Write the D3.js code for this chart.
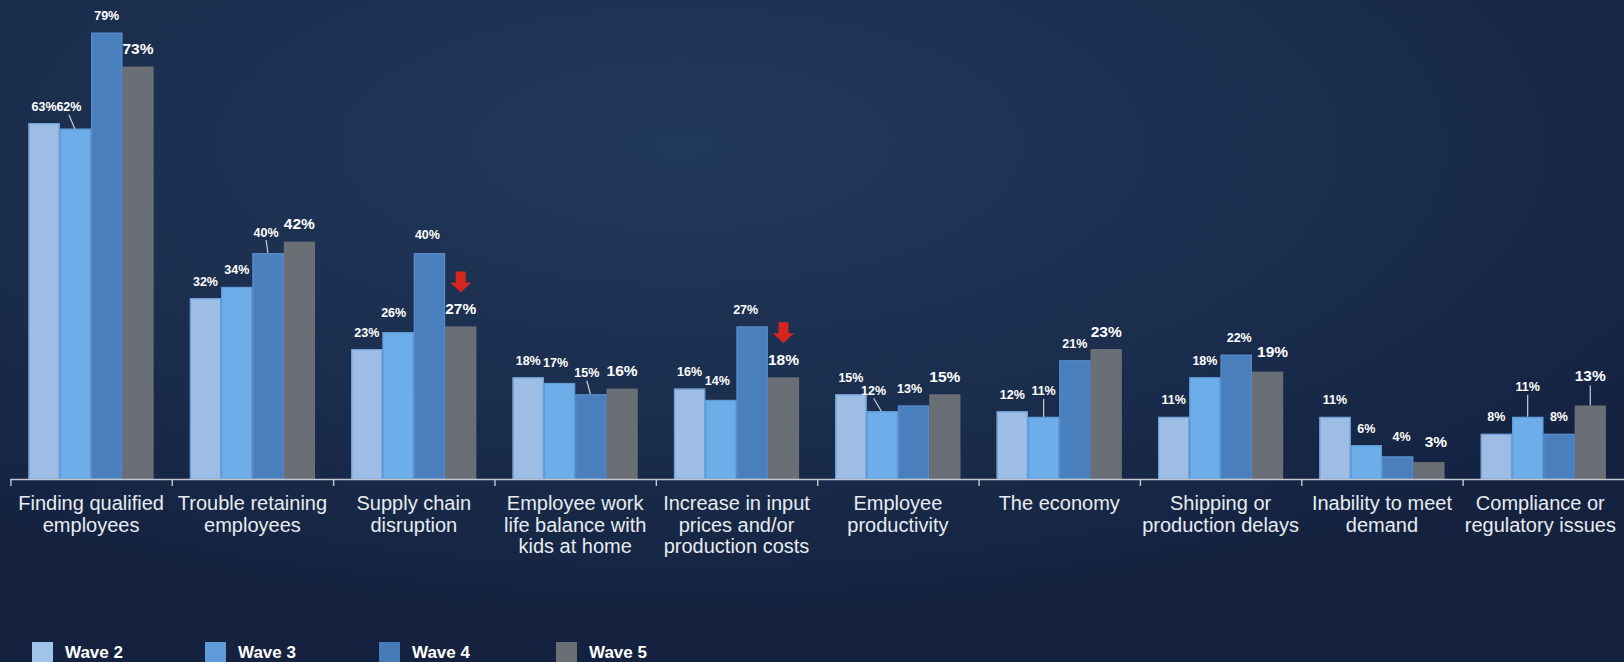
<!DOCTYPE html>
<html>
<head>
<meta charset="utf-8">
<script src="https://cdn.jsdelivr.net/npm/d3@7"></script>
<style>
  html, body { margin: 0; padding: 0; background: #182a48; }
  svg { display: block; }
  text { font-family: "Liberation Sans", Arial, Helvetica, sans-serif; }
</style>
</head>
<body>
<svg id="chart" width="1624" height="662"></svg>
<script>
// Issues facing businesses, share of respondents by survey wave
const categories = [
  "Finding qualified employees",
  "Trouble retaining employees",
  "Supply chain disruption",
  "Employee work life balance with kids at home",
  "Increase in input prices and/or production costs",
  "Employee productivity",
  "The economy",
  "Shipping or production delays",
  "Inability to meet demand",
  "Compliance or regulatory issues"
];
const categoryLines = [
  ["Finding qualified", "employees"],
  ["Trouble retaining", "employees"],
  ["Supply chain", "disruption"],
  ["Employee work", "life balance with", "kids at home"],
  ["Increase in input", "prices and/or", "production costs"],
  ["Employee", "productivity"],
  ["The economy"],
  ["Shipping or", "production delays"],
  ["Inability to meet", "demand"],
  ["Compliance or", "regulatory issues"]
];
const seriesNames = ["Wave 2", "Wave 3", "Wave 4", "Wave 5"];
const wave2 = [63, 32, 23, 18, 16, 15, 12, 11, 11, 8];
const wave3 = [62, 34, 26, 17, 14, 12, 11, 18, 6, 11];
const wave4 = [79, 40, 40, 15, 27, 13, 21, 22, 4, 8];
const wave5 = [73, 42, 27, 16, 18, 15, 23, 19, 3, 13];
// categories where the latest wave dropped noticeably
const declineFlags = [false, false, true, false, true, false, false, false, false, false];

const seriesValues = [wave2, wave3, wave4, wave5];
const colors = ["#9dbde5", "#6dadea", "#4a7fbe", "#6a6e75"];
const strokes = ["#6e9fda", "#5f9ad8", "#5a8bc8", null];
const legendColors = ["#a0c3ea", "#609bd9", "#477bb8", "#6a6e75"];

// label nudges for crowded spots: [category, series, dx, dy, leader line]
const nudges = [
  [0, 1, -6.5, -5, true],
  [1, 2, -2, -4, true],
  [2, 1, -4.5, -3, false],
  [2, 2, -2, -2, false],
  [3, 1, -4, -3, false],
  [3, 2, -4, -4.5, true],
  [4, 1, -3.5, -2, false],
  [4, 2, -6.5, 0, false],
  [5, 1, -8.6, -4, true],
  [5, 2, -4, 0, false],
  [6, 1, 0, -9, true],
  [7, 2, 3, 0, false],
  [7, 3, 5, -2, false],
  [8, 2, 4, -3, false],
  [8, 3, 7, -3, false],
  [9, 1, 0, -13, true],
  [9, 3, 0, -12, true]
];

const W = 1624, H = 662;
const svg = d3.select("#chart");

// background
const defs = svg.append("defs");
const grad = defs.append("radialGradient")
  .attr("id", "bg").attr("cx", 0.42).attr("cy", 0.22).attr("r", 0.72);
grad.append("stop").attr("offset", 0).attr("stop-color", "#21395a");
grad.append("stop").attr("offset", 0.55).attr("stop-color", "#1b2e4e");
grad.append("stop").attr("offset", 1).attr("stop-color", "#142240");
svg.append("rect").attr("width", W).attr("height", H).attr("fill", "url(#bg)");

const baseY = 479;
const x = d3.scaleBand().domain(categories).range([10.4, 1624]).paddingInner(0).paddingOuter(0);
const xi = d3.scaleBand().domain(seriesNames).range([0, x.bandwidth()]).paddingInner(0).paddingOuter(0.578);
const y = d3.scaleLinear().domain([0, 80]).range([baseY, baseY - 80 * 5.65]);

const rows = [];
categories.forEach((c, ci) => {
  seriesNames.forEach((s, si) => {
    rows.push({ c, ci, s, si, v: seriesValues[si][ci] });
  });
});

// bars
const g = svg.append("g");
g.selectAll("rect.bar").data(rows).join("rect")
  .attr("class", "bar")
  .attr("x", d => x(d.c) + xi(d.s))
  .attr("y", d => y(d.v))
  .attr("width", xi.bandwidth())
  .attr("height", d => y(0) - y(d.v))
  .attr("fill", d => colors[d.si]);

g.selectAll("rect.edge").data(rows.filter(d => strokes[d.si])).join("rect")
  .attr("class", "edge")
  .attr("x", d => x(d.c) + xi(d.s) + 0.6)
  .attr("y", d => y(d.v) + 0.6)
  .attr("width", xi.bandwidth() - 1.2)
  .attr("height", d => y(0) - y(d.v) - 0.6)
  .attr("fill", "none")
  .attr("stroke", d => strokes[d.si])
  .attr("stroke-width", 1.2);

// axis line with ticks at category boundaries
const axis = svg.append("g");
axis.append("line")
  .attr("x1", x.range()[0]).attr("x2", x.range()[1])
  .attr("y1", baseY + 0.5).attr("y2", baseY + 0.5)
  .attr("stroke", "#c3c8d0").attr("stroke-width", 1.6);
axis.selectAll("line.tick").data(categories).join("line")
  .attr("class", "tick")
  .attr("x1", d => x(d) + 0.5).attr("x2", d => x(d) + 0.5)
  .attr("y1", baseY).attr("y2", baseY + 7)
  .attr("stroke", "#c3c8d0").attr("stroke-width", 1.4);

// category labels
const cat = svg.append("g");
categories.forEach((c, ci) => {
  const cx = x(c) + x.bandwidth() / 2 - (ci === 9 ? 3 : 0);
  const t = cat.append("text")
    .attr("x", cx)
    .attr("y", 510)
    .attr("text-anchor", "middle")
    .attr("fill", "#e8ebf0")
    .attr("font-size", 20);
  categoryLines[ci].forEach((line, li) => {
    t.append("tspan").attr("x", cx)
      .attr("dy", li === 0 ? 0 : 21.7).text(line);
  });
});

// value labels
const nudgeOf = (ci, si) => nudges.find(n => n[0] === ci && n[1] === si);
const lbl = svg.append("g");
rows.forEach(d => {
  const big = d.si === 3;
  const n = nudgeOf(d.ci, d.si);
  const cx = x(d.c) + xi(d.s) + xi.bandwidth() / 2;
  const top = y(d.v);
  const midY = top - (big ? 18 : 17) + (n ? n[3] : 0);
  const lx = cx + (n ? n[2] : 0);
  lbl.append("text")
    .attr("x", lx)
    .attr("y", midY)
    .attr("dy", "0.36em")
    .attr("text-anchor", "middle")
    .attr("font-weight", "bold")
    .attr("font-size", big ? 15.5 : 12.5)
    .attr("fill", "#ffffff")
    .text(d.v + "%");
  if (n && n[4]) {
    lbl.append("line")
      .attr("x1", lx).attr("y1", midY + (big ? 10 : 8))
      .attr("x2", cx + (n[2] !== 0 ? n[2] * 0.1 : 0)).attr("y2", top)
      .attr("stroke", "#c9ced6").attr("stroke-width", 1.2);
  }
  if (big && declineFlags[d.ci]) {
    const ay = midY - 37;
    const p = d3.path();
    p.moveTo(lx - 5, ay);
    p.lineTo(lx + 5, ay);
    p.lineTo(lx + 5, ay + 11);
    p.lineTo(lx + 10.5, ay + 11);
    p.lineTo(lx, ay + 21);
    p.lineTo(lx - 10.5, ay + 11);
    p.lineTo(lx - 5, ay + 11);
    p.closePath();
    lbl.append("path").attr("d", p.toString()).attr("fill", "#d4261e");
  }
});

// legend
const legendX = [32, 205, 379, 556];
const leg = svg.append("g");
seriesNames.forEach((s, si) => {
  const lx = legendX[si];
  leg.append("rect").attr("x", lx).attr("y", 642).attr("width", 21).attr("height", 24)
    .attr("fill", legendColors[si]);
  leg.append("text").attr("x", lx + 33).attr("y", 651.5).attr("dy", "0.36em")
    .attr("font-size", 17).attr("font-weight", "bold").attr("fill", "#ffffff").text(s);
});
</script>
</body>
</html>
